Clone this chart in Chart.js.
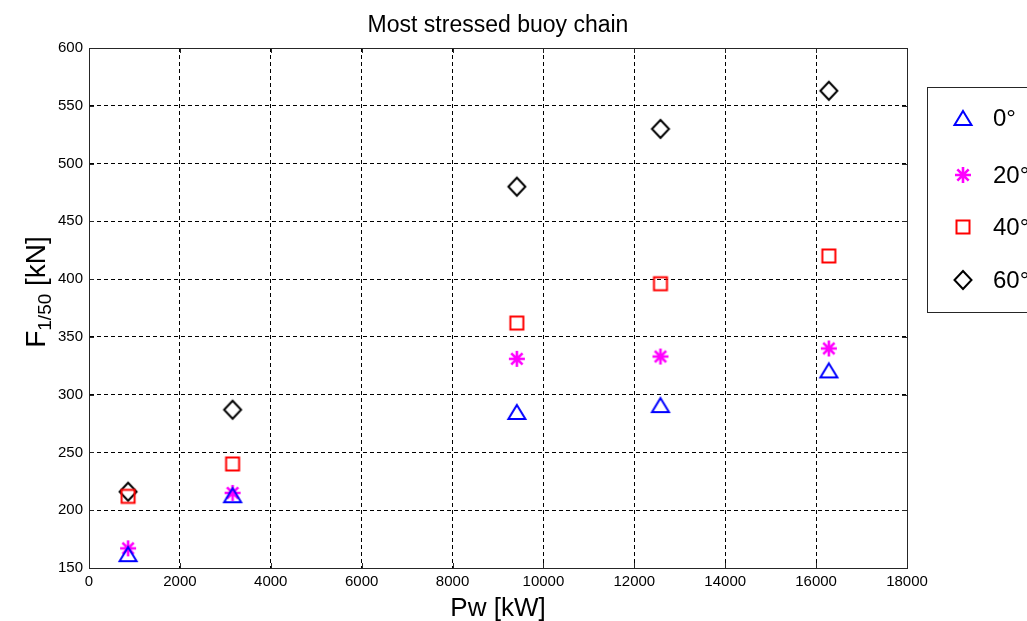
<!DOCTYPE html>
<html>
<head>
<meta charset="utf-8">
<title>Most stressed buoy chain</title>
<script src="https://cdn.jsdelivr.net/npm/chart.js@4/dist/chart.umd.min.js"></script>
<style>
  html, body { margin: 0; padding: 0; background: #ffffff; }
  #wrap { position: relative; width: 1027px; height: 621px; }
</style>
</head>
<body>
<div id="wrap"><canvas id="chart"></canvas></div>
<script>
// Wave power at each sea state [kW]
const powerKW = [860, 3160, 9415, 12575, 16280];

// Extreme chain force F1/50 [kN] per wave heading
const force0deg  = [162, 213, 285, 291, 321];
const force20deg = [167, 215, 331, 333, 340];
const force40deg = [212, 240, 362, 396, 420];
const force60deg = [216, 287, 480, 530, 563];

const headingLabels = ['0°', '20°', '40°', '60°'];

const xTicks = { min: 0, max: 18000, step: 2000 };
const yTicks = { min: 150, max: 600, step: 50 };

const FONT = '"Liberation Sans", Arial, Helvetica, sans-serif';

// ---- marker glyphs (outlined, MATLAB-like) ----
function makeMarker(kind, color) {
  const c = document.createElement('canvas');
  const S = 24;
  c.width = S; c.height = S;
  const g = c.getContext('2d');
  const m = S / 2;
  g.strokeStyle = color;
  g.lineWidth = 2;
  g.lineJoin = 'miter';
  g.beginPath();
  if (kind === 'triangle') {
    g.moveTo(m, m - 7);
    g.lineTo(m + 8.5, m + 7);
    g.lineTo(m - 8.5, m + 7);
    g.closePath();
  } else if (kind === 'star') {
    g.lineWidth = 2.6;
    const r = 8;
    for (let k = 0; k < 4; k++) {
      const a = k * Math.PI / 4;
      g.moveTo(m - r * Math.cos(a), m - r * Math.sin(a));
      g.lineTo(m + r * Math.cos(a), m + r * Math.sin(a));
    }
  } else if (kind === 'square') {
    g.rect(m - 6.5, m - 6.5, 13, 13);
  } else if (kind === 'diamond') {
    g.moveTo(m, m - 9);
    g.lineTo(m + 8.5, m);
    g.lineTo(m, m + 9);
    g.lineTo(m - 8.5, m);
    g.closePath();
  }
  g.stroke();
  return c;
}

const markers = [
  makeMarker('triangle', '#0000ff'),
  makeMarker('star', '#ff00ff'),
  makeMarker('square', '#ff0000'),
  makeMarker('diamond', '#000000')
];
const seriesValues = [force0deg, force20deg, force40deg, force60deg];

const datasets = headingLabels.map((lab, i) => ({
  label: lab,
  data: powerKW.map((x, j) => ({ x: x, y: seriesValues[i][j] })),
  pointStyle: markers[i],
  pointRadius: 10,
  pointHoverRadius: 10,
  showLine: false
}));

// ---- frame, inward ticks, titles and boxed legend ----
const decorations = {
  id: 'decorations',
  afterDraw(chart) {
    const ctx = chart.ctx;
    const a = chart.chartArea;
    const xs = chart.scales.x, ys = chart.scales.y;
    ctx.save();

    // solid frame
    ctx.strokeStyle = '#262626';
    ctx.lineWidth = 1;
    ctx.setLineDash([]);
    ctx.strokeRect(Math.round(a.left) + 0.5, Math.round(a.top) + 0.5,
                   Math.round(a.right - a.left), Math.round(a.bottom - a.top));

    // inward tick marks on all four sides
    const tl = 5;
    ctx.beginPath();
    for (let v = xTicks.min; v <= xTicks.max; v += xTicks.step) {
      const px = Math.round(xs.getPixelForValue(v)) + 0.5;
      ctx.moveTo(px, a.bottom); ctx.lineTo(px, a.bottom - tl);
      ctx.moveTo(px, a.top); ctx.lineTo(px, a.top + tl);
    }
    for (let v = yTicks.min; v <= yTicks.max; v += yTicks.step) {
      const py = Math.round(ys.getPixelForValue(v)) + 0.5;
      ctx.moveTo(a.left, py); ctx.lineTo(a.left + tl, py);
      ctx.moveTo(a.right, py); ctx.lineTo(a.right - tl, py);
    }
    ctx.stroke();

    // chart title
    ctx.fillStyle = '#000000';
    ctx.textAlign = 'center';
    ctx.textBaseline = 'alphabetic';
    ctx.font = '23px ' + FONT;
    ctx.fillText('Most stressed buoy chain', (a.left + a.right) / 2, 32);

    // x axis title
    ctx.font = '26px ' + FONT;
    ctx.fillText('Pw [kW]', (a.left + a.right) / 2, 616);

    // y axis title with subscript
    ctx.save();
    ctx.translate(45, 292);
    ctx.rotate(-Math.PI / 2);
    ctx.textAlign = 'left';
    const bigF = '28px ' + FONT, smallF = '19px ' + FONT;
    ctx.font = bigF;  const wF = ctx.measureText('F').width;
    ctx.font = smallF; const wS = ctx.measureText('1/50').width;
    ctx.font = bigF;  const wK = ctx.measureText(' [kN]').width;
    let x0 = -(wF + wS + wK) / 2;
    ctx.font = bigF;  ctx.fillText('F', x0, 0); x0 += wF;
    ctx.font = smallF; ctx.fillText('1/50', x0, 6); x0 += wS;
    ctx.font = bigF;  ctx.fillText(' [kN]', x0, 0);
    ctx.restore();

    // legend box
    ctx.fillStyle = '#ffffff';
    ctx.fillRect(927, 87, 110, 225);
    ctx.strokeStyle = '#262626';
    ctx.lineWidth = 1;
    ctx.strokeRect(927.5, 87.5, 110, 225);
    const rowsY = [118, 175, 227, 280];
    ctx.font = '24px ' + FONT;
    ctx.textAlign = 'left';
    ctx.textBaseline = 'middle';
    ctx.fillStyle = '#000000';
    chart.data.datasets.forEach((ds, i) => {
      const img = ds.pointStyle;
      ctx.drawImage(img, 963 - img.width / 2, rowsY[i] - img.height / 2);
      ctx.fillText(ds.label, 993, rowsY[i] + 1);
    });

    ctx.restore();
  }
};

new Chart(document.getElementById('chart'), {
  type: 'scatter',
  data: { datasets },
  plugins: [decorations],
  options: {
    responsive: true,
    maintainAspectRatio: false,
    animation: false,
    events: [],
    layout: { padding: { left: 0, right: 120, top: 48, bottom: 0 } },
    plugins: {
      legend: { display: false },
      title: { display: false },
      tooltip: { enabled: false }
    },
    scales: {
      x: {
        type: 'linear',
        min: xTicks.min, max: xTicks.max,
        afterFit(s) { s.height = 53; },
        ticks: {
          stepSize: xTicks.step,
          color: '#000000',
          font: { family: FONT, size: 15 },
          padding: 5,
          maxRotation: 0,
          autoSkip: false,
          callback: v => String(v)
        },
        grid: { color: '#000000', lineWidth: 1, drawTicks: false },
        border: { display: true, color: '#262626', width: 1, dash: [4, 3] }
      },
      y: {
        type: 'linear',
        min: yTicks.min, max: yTicks.max,
        afterFit(s) { s.width = 89; },
        ticks: {
          stepSize: yTicks.step,
          color: '#000000',
          font: { family: FONT, size: 15 },
          padding: 6,
          autoSkip: false,
          callback: v => String(v)
        },
        grid: { color: '#000000', lineWidth: 1, drawTicks: false },
        border: { display: true, color: '#262626', width: 1, dash: [4, 3] }
      }
    }
  }
});
</script>
</body>
</html>
